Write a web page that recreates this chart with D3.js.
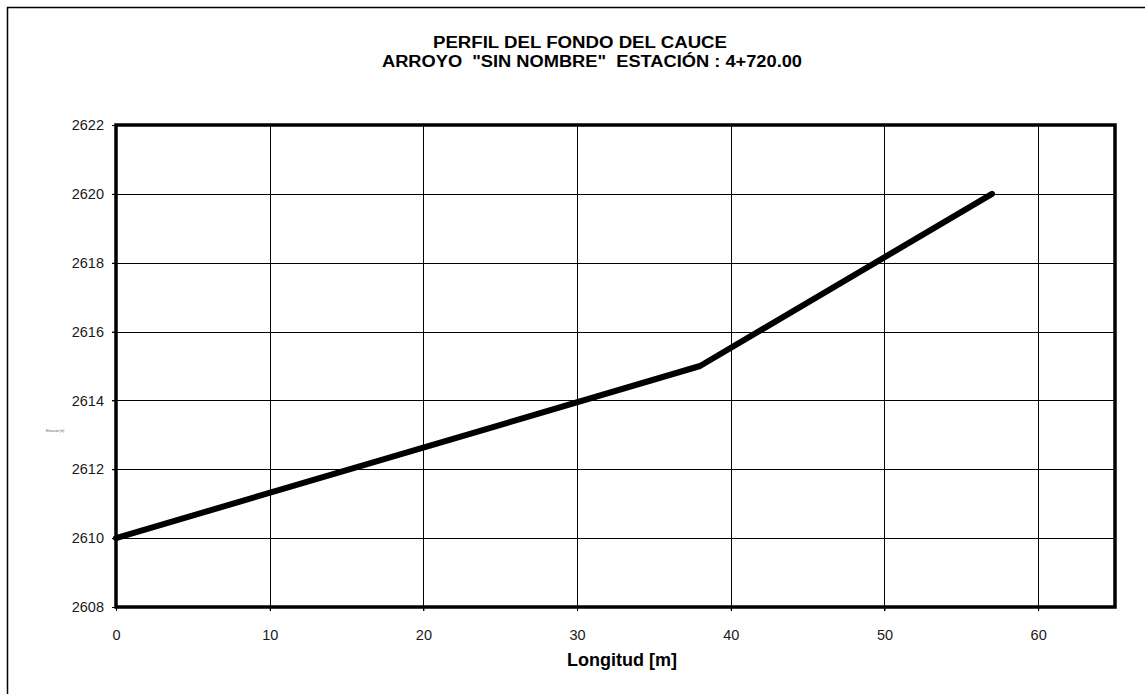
<!DOCTYPE html>
<html><head><meta charset="utf-8">
<script src="https://cdn.jsdelivr.net/npm/d3@7"></script>
<style>body{margin:0;background:#fff}svg{display:block}text{font-family:"Liberation Sans",Arial,sans-serif}</style>
</head><body><svg id="c" width="1145" height="694"></svg>
<script>
const distances = [0, 38, 57];
const elevations = [2610, 2615, 2620];
const xTicks = [0, 10, 20, 30, 40, 50, 60];
const yTicks = [2608, 2610, 2612, 2614, 2616, 2618, 2620, 2622];
const titleLines = ['PERFIL DEL FONDO DEL CAUCE', 'ARROYO  "SIN NOMBRE"  ESTACIÓN : 4+720.00'];
const xLabel = 'Longitud [m]';
const yLabel = 'Elevación [m]';

const svg = d3.select('#c');
const L = 116, R = 1115, T = 125, B = 607;
const x = d3.scaleLinear().domain([0, 65]).range([L, R]);
const y = d3.scaleLinear().domain([2608, 2622]).range([B, T]);

svg.append('rect').attr('x', 7.5).attr('y', 7.5).attr('width', 1200).attr('height', 800)
  .attr('fill', 'none').attr('stroke', '#000').attr('stroke-width', 1.5);

// grid
svg.append('g').selectAll('line').data(xTicks.filter(d => d > 0)).join('line')
  .attr('x1', d => Math.round(x(d)) + 0.5).attr('x2', d => Math.round(x(d)) + 0.5)
  .attr('y1', T).attr('y2', B + 4).attr('stroke', '#000').attr('stroke-width', 1);
svg.append('g').selectAll('line').data(yTicks.filter(d => d > 2608 && d < 2622)).join('line')
  .attr('x1', L - 4).attr('x2', R).attr('y1', d => Math.round(y(d)) + 0.5).attr('y2', d => Math.round(y(d)) + 0.5)
  .attr('stroke', '#000').attr('stroke-width', 1);

// axes
const xa = svg.append('g').attr('transform', `translate(0,${B})`)
  .call(d3.axisBottom(x).tickValues(xTicks).tickSize(4).tickPadding(19).tickFormat(d3.format('d')));
xa.select('.domain').remove();
xa.selectAll('text').attr('font-size', 14.5).attr('fill', '#1a1a1a').style('font-family', '"Liberation Sans",Arial,sans-serif');
const ya = svg.append('g').attr('transform', `translate(${L},0)`)
  .call(d3.axisLeft(y).tickValues(yTicks).tickSize(4).tickPadding(8).tickFormat(d3.format('d')));
ya.select('.domain').remove();
ya.selectAll('text').attr('font-size', 14.5).attr('fill', '#1a1a1a').style('font-family', '"Liberation Sans",Arial,sans-serif');

// frame
svg.append('rect').attr('x', L).attr('y', T).attr('width', R - L).attr('height', B - T)
  .attr('fill', 'none').attr('stroke', '#000').attr('stroke-width', 3.5);

// line
const data = distances.map((d, i) => [d, elevations[i]]);
svg.append('path').datum(data)
  .attr('d', d3.line().x(d => x(d[0])).y(d => y(d[1])))
  .attr('fill', 'none').attr('stroke', '#000').attr('stroke-width', 6)
  .attr('stroke-linejoin', 'round').attr('stroke-linecap', 'round');

// titles
svg.append('text').attr('x', 580).attr('y', 48).attr('text-anchor', 'middle')
  .attr('font-size', 16).attr('font-weight', 'bold')
  .attr('textLength', 294).attr('lengthAdjust', 'spacingAndGlyphs').text(titleLines[0]);
svg.append('text').attr('x', 592).attr('y', 66.5).attr('text-anchor', 'middle')
  .attr('font-size', 16).attr('font-weight', 'bold').style('white-space', 'pre')
  .attr('textLength', 420).attr('lengthAdjust', 'spacingAndGlyphs').text(titleLines[1]);
svg.append('text').attr('x', 622).attr('y', 666).attr('text-anchor', 'middle')
  .attr('font-size', 18).attr('font-weight', 'bold').text(xLabel);
svg.append('text').attr('x', 55).attr('y', 432).attr('text-anchor', 'middle')
  .attr('font-size', 3).attr('fill', '#555').text(yLabel);
</script></body></html>
